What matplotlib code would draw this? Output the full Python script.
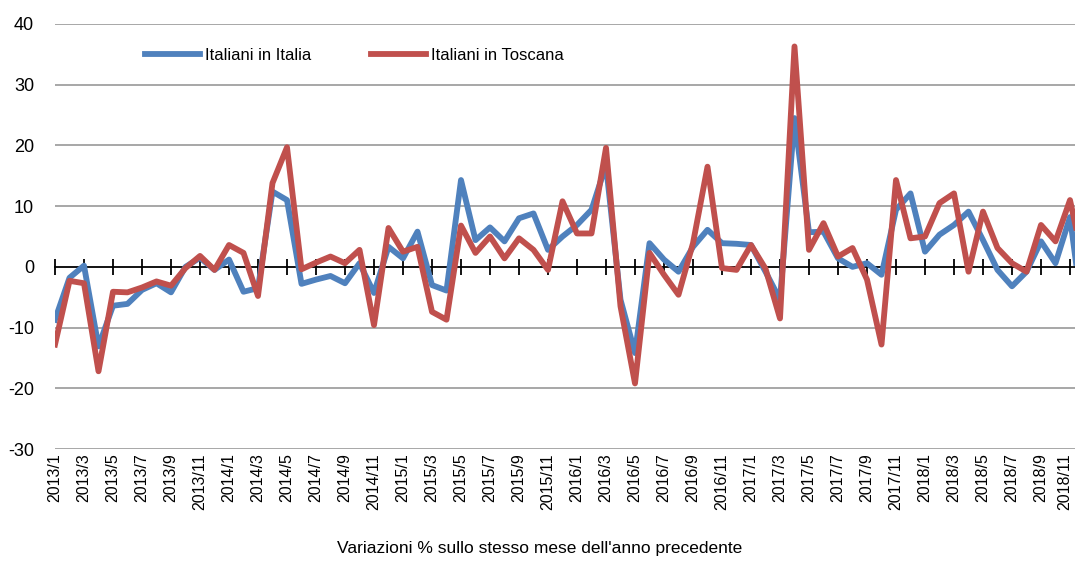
import matplotlib
matplotlib.use('Agg')
import matplotlib.pyplot as plt
from matplotlib import font_manager
from matplotlib.transforms import ScaledTranslation

# monthly categories 2013/1 .. 2018/12
months = [f'{y}/{m}' for y in range(2013, 2019) for m in range(1, 13)]

italia = [-8.7, -1.8, 0.2, -13.1, -6.4, -6.1, -3.8, -2.7, -4.2, 0.0, 1.5, -0.5,
          1.2, -4.1, -3.5, 12.4, 11.0, -2.8, -2.1, -1.5, -2.7, 0.6, -4.3, 3.3,
          1.4, 5.8, -3.0, -3.9, 14.3, 4.4, 6.5, 4.2, 8.0, 8.8, 2.8, 5.0,
          6.9, 9.4, 16.8, -5.4, -14.2, 3.9, 1.2, -0.8, 3.3, 6.1, 3.9, 3.8,
          3.6, -0.8, -5.4, 24.5, 5.7, 5.8, 1.4, 0.0, 0.6, -1.3, 9.4, 12.1,
          2.5, 5.3, 6.9, 9.1, 4.4, -0.5, -3.2, -0.8, 4.2, 0.6, 8.2, -10.0]

toscana = [-12.8, -2.3, -2.7, -17.2, -4.1, -4.2, -3.4, -2.4, -3.1, -0.2, 1.8, -0.5,
           3.6, 2.3, -4.8, 13.8, 19.7, -0.4, 0.7, 1.7, 0.6, 2.8, -9.6, 6.4,
           2.5, 3.3, -7.4, -8.7, 6.8, 2.3, 5.0, 1.4, 4.7, 2.8, -0.5, 10.8,
           5.5, 5.5, 19.6, -6.5, -19.2, 2.3, -1.3, -4.6, 3.9, 16.5, -0.2, -0.5,
           3.6, -0.3, -8.5, 36.3, 2.8, 7.2, 1.7, 3.1, -2.1, -12.8, 14.3, 4.7,
           5.0, 10.5, 12.1, -0.8, 9.1, 3.1, 0.6, -0.8, 6.9, 4.2, 11.0, 0.0]

yticks = [-30, -20, -10, 0, 10, 20, 30, 40]

names = {f.name for f in font_manager.fontManager.ttflist}
fam = 'Liberation Sans Narrow' if 'Liberation Sans Narrow' in names else 'Liberation Sans'
plt.rcParams['font.family'] = [fam, 'DejaVu Sans']

fig = plt.figure(figsize=(10.75, 5.61), dpi=100)
ax = fig.add_axes([55 / 1075, (561 - 449) / 561, 1 - 55 / 1075, (449 - 24) / 561])

x = list(range(len(months)))
ax.plot(x, italia, color='#4F81BD', lw=4.2, label='Italiani in Italia', zorder=3)
ax.plot(x, toscana, color='#C0504D', lw=4.2, label='Italiani in Toscana', zorder=4)

ax.set_xlim(0, (1075 - 55) / 14.5)
ax.set_ylim(-30, 40)

# gridlines (zero line is the black category axis)
for v in yticks:
    if v != 0:
        ax.axhline(v, color='#A0A0A0', lw=1.3, zorder=1)

for s in ['left', 'right', 'top']:
    ax.spines[s].set_visible(False)
ax.spines['bottom'].set_position(('data', 0))
ax.spines['bottom'].set_color('black')
ax.spines['bottom'].set_linewidth(1.3)
ax.spines['bottom'].set_zorder(2)
ax.set_xticks(x[::2])
ax.tick_params(axis='x', direction='inout', length=11, width=1.3, labelbottom=False)

ax.set_yticks(yticks)
ax.set_yticklabels([str(v) for v in yticks])
ax.tick_params(axis='y', length=0, pad=15, labelsize=13)

sec = ax.secondary_xaxis(0.0)
sec.set_xticks(x[::2])
sec.set_xticklabels(months[::2], rotation=90, fontsize=11.5)
sec.tick_params(length=0, pad=3)
sec.spines['bottom'].set_visible(False)
# nudge the last label so it stays inside the picture
last = sec.get_xticklabels()[-1]
last.set_transform(last.get_transform() + ScaledTranslation(-4 / 72, 0, fig.dpi_scale_trans))

fig.text(540 / 1075, 1 - 549 / 561, "Variazioni % sullo stesso mese dell'anno precedente",
         ha='center', va='center', fontsize=12.5)

ax.legend(loc='center left', bbox_to_anchor=(90 / 1020, (449 - 55) / 425), ncol=2,
          frameon=False, fontsize=12, handlelength=3.3, handletextpad=0.3,
          columnspacing=3.6, borderpad=0, borderaxespad=0)

fig.savefig('out.png', dpi=100)
